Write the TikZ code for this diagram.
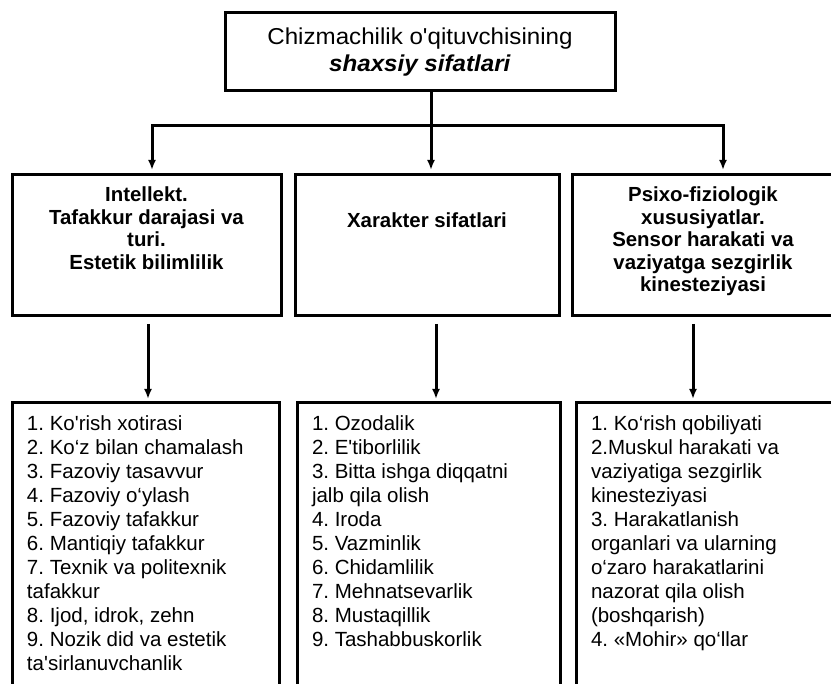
\documentclass[tikz,border=0pt]{standalone}
\usepackage{fontspec}
\setmainfont{Liberation Sans}
\newfontfamily\plainfont{Liberation Sans}
\newfontfamily\widefont{Liberation Sans}[FakeStretch=1.05]
\usetikzlibrary{arrows.meta}
\newcommand{\listbox}[2]{\parbox[c][297pt][t]{#1}{\raggedright\leftskip=15pt
 \frenchspacing\plainfont\fontsize{20.5}{24}\selectfont\rule{0pt}{28pt}#2}}

\begin{document}
\begin{tikzpicture}[x=1pt,y=-1pt,line width=3pt]
\tikzset{box/.style={draw,inner sep=0pt,outer sep=0pt,anchor=north west},
 midbox/.style={box,font=\plainfont\bfseries\fontsize{20.4}{22.5}\selectfont},
 arr/.style={-{Latex[length=10pt,width=8pt]}}}
\useasboundingbox (0,0) rectangle (831,684);
\node[box] (head) at (225,13) {\parbox[c][78pt][c]{390pt}{\centering
 \widefont\fontsize{23}{27}\selectfont Chizmachilik o'qituvchisining\\
 \textbf{\textit{shaxsiy sifatlari}}}};
% middle row
\node[midbox] (intel) at (12,175) {\parbox[c][141pt][t]{269pt}{\centering
 \rule{0pt}{27pt}Intellekt.\\ Tafakkur darajasi va\\ turi.\\ Estetik bilimlilik}};
\node[midbox] (xarakter) at (295,175) {\parbox[c][141pt][t]{264pt}{\centering
 \rule{0pt}{53pt}Xarakter sifatlari}};
\node[midbox] (psixo) at (572,175) {\parbox[c][141pt][t]{262pt}{\centering
 \rule{0pt}{27pt}Psixo-fiziologik\\ xususiyatlar.\\ Sensor harakati va\\
 vaziyatga sezgirlik\\ kinesteziyasi}};
% lists
\node[box] (intelL) at (12,403) {\listbox{267pt}{1. Ko'rish xotirasi\\
 2. Ko‘z bilan chamalash\\ 3. Fazoviy tasavvur\\ 4. Fazoviy o‘ylash\\
 5. Fazoviy tafakkur\\ 6. Mantiqiy tafakkur\\ 7. Texnik va politexnik\\
 tafakkur\\ 8. Ijod, idrok, zehn\\ 9. Nozik did va estetik\\ ta'sirlanuvchanlik}};
\node[box] (xarakterL) at (297,403) {\listbox{263pt}{1. Ozodalik\\
 2. E'tiborlilik\\ 3. Bitta ishga diqqatni\\ jalb qila olish\\ 4. Iroda\\
 5. Vazminlik\\ 6. Chidamlilik\\ 7. Mehnatsevarlik\\ 8. Mustaqillik\\
 9. Tashabbuskorlik}};
\node[box] (psixoL) at (576,403) {\listbox{258pt}{1. Ko‘rish qobiliyati\\
 2.Muskul harakati va\\ vaziyatiga sezgirlik\\ kinesteziyasi\\
 3. Harakatlanish\\ organlari va ularning\\ o‘zaro harakatlarini\\
 nazorat qila olish\\ (boshqarish)\\ 4. «Mohir» qo‘llar}};
% connectors
\coordinate (bus) at (431,126);
\draw (head.south -| bus) -- (bus);
\draw[arr,shorten >=5pt] (bus) -| ([xshift=5.5pt]intel.north);
\draw[arr,shorten >=5pt] (bus) -- (bus |- xarakter.north);
\draw[arr,shorten >=5pt] (bus) -| ([xshift=20pt]psixo.north);
\foreach \a/\dx in {intel/1.5,xarakter/9,psixo/-10}{
 \coordinate (\a A) at ([xshift=\dx pt,yshift=-8pt]\a.south);
 \draw[arr,shorten >=4pt] (\a A) -- (\a A |- \a L.north);
}
\end{tikzpicture}
\end{document}
